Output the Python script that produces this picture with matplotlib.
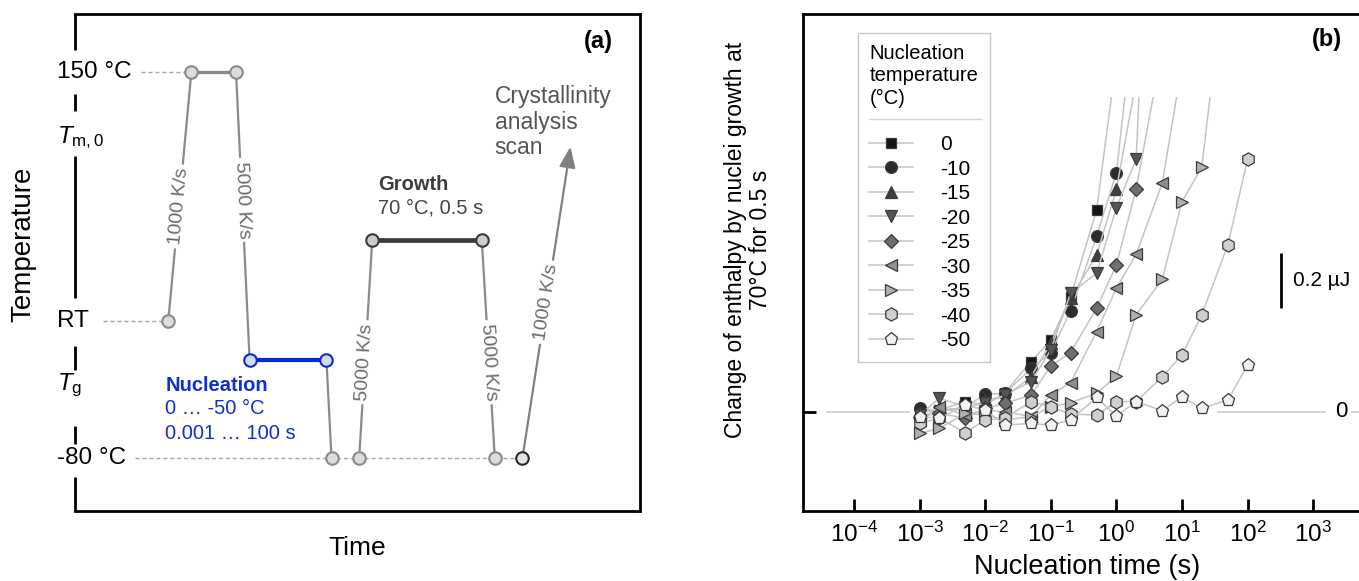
import numpy as np
import matplotlib
matplotlib.use('Agg')
import matplotlib.pyplot as plt
from matplotlib.lines import Line2D
from matplotlib.patches import Rectangle

plt.rcParams['font.family'] = ['Liberation Sans', 'DejaVu Sans']
plt.rcParams['mathtext.fontset'] = 'custom'
plt.rcParams['mathtext.rm'] = 'Liberation Sans'
plt.rcParams['mathtext.it'] = 'Liberation Sans:italic'
plt.rcParams['mathtext.bf'] = 'Liberation Sans:bold'
plt.rcParams['axes.unicode_minus'] = False

# ---------------- Panel (a): schematic temperature program (arbitrary units) ----------------
level_labels = ['150 °C', r'$T_{\mathrm{m,0}}$', 'RT', r'$T_{\mathrm{g}}$', '-80 °C']
level_values = [88.4, 75.2, 38.1, 25.3, 10.65]
T_150, T_RT, T_NUC, T_M80, T_GROW = 88.4, 38.1, 30.4, 10.65, 54.4
prog_time = [16.5, 20.6, 28.5, 30.9, 44.5, 45.4, 50.3, 52.6, 72.0, 74.3, 79.2]
prog_temp = [T_RT, T_150, T_150, T_NUC, T_NUC, T_M80, T_M80, T_GROW, T_GROW, T_M80, T_M80]
scan_end = (87.7, 73.3)
rate_labels = ['1000 K/s', '5000 K/s', '5000 K/s', '5000 K/s', '1000 K/s']

# ---------------- Panel (b): data ----------------
nuc_time = [0.001, 0.002, 0.005, 0.01, 0.02, 0.05, 0.1, 0.2, 0.5, 1, 2, 5, 10, 20, 50, 100]
temps = ['0', '-10', '-15', '-20', '-25', '-30', '-35', '-40', '-50']
dH_0 = [0.004, 0.006, 0.037, 0.024, 0.070, 0.183, 0.262, 0.418, 0.738, 1.29]
dH_m10 = [0.012, 0.000, 0.018, 0.063, 0.067, 0.158, 0.216, 0.369, 0.642, 0.874, 1.52]
dH_m15 = [-0.006, 0.012, 0.006, 0.043, 0.055, 0.128, 0.250, 0.415, 0.573, 0.813, 1.21]
dH_m20 = [-0.012, 0.049, 0.018, 0.030, 0.061, 0.110, 0.226, 0.433, 0.506, 0.746, 0.924, 3.0]
dH_m25 = [-0.018, -0.006, -0.024, 0.012, 0.030, 0.061, 0.167, 0.216, 0.378, 0.537, 0.814, 1.33]
dH_m30 = [-0.030, 0.018, -0.012, 0.006, 0.000, -0.018, 0.061, 0.106, 0.293, 0.451, 0.576, 0.835, 1.27]
dH_m35 = [-0.079, -0.061, -0.006, -0.012, -0.030, -0.018, 0.018, 0.033, 0.067, 0.130, 0.354, 0.484,
          0.768, 0.894, 1.70]
dH_m40 = [-0.043, -0.024, -0.077, -0.030, -0.024, 0.037, 0.018, -0.009, -0.012, 0.037, 0.037, 0.128,
          0.207, 0.354, 0.610, 0.923]
dH_m50 = [-0.018, -0.024, 0.024, 0.006, -0.049, -0.043, -0.049, -0.030, 0.052, -0.016, 0.037, 0.004,
          0.055, 0.012, 0.043, 0.171]
series = [dH_0, dH_m10, dH_m15, dH_m20, dH_m25, dH_m30, dH_m35, dH_m40, dH_m50]

markers = ['s', 'o', '^', 'v', 'D', '<', '>', 'h', 'p']
msizes = [7.5, 8.5, 9, 9, 7.5, 9, 9, 9.5, 9.5]
fills = ['#151515', '#2b2b2b', '#3f3f3f', '#555555', '#6e6e6e', '#909090', '#b0b0b0', '#cfcfcf', '#f2f2f2']

W, H = 1359, 581
fig = plt.figure(figsize=(W / 100, H / 100), dpi=100)

# =============== Panel (a) ===============
axa = fig.add_axes([75 / W, (H - 510.7) / H, 565 / W, 496.7 / H])
axa.set_xlim(0, 100)
axa.set_ylim(0, 100)
axa.set_xticks([])
axa.set_yticks([])
for s in ['top', 'right', 'bottom']:
    axa.spines[s].set_linewidth(2)
axa.spines['left'].set_visible(False)
spine_segments = [(92.75, 100), (80.5, 83.9), (42.8, 71.4), (28.3, 33.2), (13.4, 17.1), (0, 6.8)]
for y0, y1 in spine_segments:
    axa.plot([0, 0], [y0, y1], color='black', lw=2, clip_on=False, solid_capstyle='butt')

for lab, val in zip(level_labels, level_values):
    axa.text(-3.2, val, lab, ha='left', va='center', fontsize=17.5, clip_on=False)

dash = (0, (3, 2))
axa.plot([11.7, prog_time[1]], [T_150, T_150], ls=dash, color='#a8a8a8', lw=1)
axa.plot([4.96, prog_time[0]], [T_RT, T_RT], ls=dash, color='#a8a8a8', lw=1)
axa.plot([10.7, prog_time[-1]], [T_M80, T_M80], ls=dash, color='#a8a8a8', lw=1)

ramp_c = '#8a8a8a'
ramps = [(0, 1), (2, 3), (4, 5), (6, 7), (8, 9)]
for i, j in ramps:
    axa.plot([prog_time[i], prog_time[j]], [prog_temp[i], prog_temp[j]], color=ramp_c, lw=1.6, zorder=2)
axa.plot(prog_time[1:3], prog_temp[1:3], color='#8a8a8a', lw=2.4, zorder=2)
axa.plot(prog_time[3:5], prog_temp[3:5], color='#0a2ad0', lw=3.0, zorder=2)
axa.plot(prog_time[7:9], prog_temp[7:9], color='#3a3a3a', lw=3.4, zorder=2)

axa.annotate('', xy=scan_end, xytext=(prog_time[-1], prog_temp[-1]),
             arrowprops=dict(arrowstyle='-|>,head_length=0.9,head_width=0.35', color='#808080',
                             lw=1.6, shrinkA=0, shrinkB=0, mutation_scale=14), zorder=2)

circ_style = dict(marker='o', ms=9, mew=1.5, ls='none', zorder=5)
for k in [0, 1, 2, 5, 6, 9]:
    axa.plot(prog_time[k], prog_temp[k], mfc='#dcdcdc', mec='#8a8a8a', **circ_style)
for k in [3, 4]:
    axa.plot(prog_time[k], prog_temp[k], mfc='#cfdcf2', mec='#0a2ad0', **circ_style)
for k in [7, 8]:
    axa.plot(prog_time[k], prog_temp[k], mfc='#cccccc', mec='#3a3a3a', **circ_style)
axa.plot(prog_time[10], prog_temp[10], mfc='#e4e4e4', mec='#2a2a2a', **circ_style)

fig.canvas.draw()
label_segments = [((prog_time[0], prog_temp[0]), (prog_time[1], prog_temp[1]), 0.46),
                  ((prog_time[2], prog_temp[2]), (prog_time[3], prog_temp[3]), 0.445),
                  ((prog_time[6], prog_temp[6]), (prog_time[7], prog_temp[7]), 0.44),
                  ((prog_time[8], prog_temp[8]), (prog_time[9], prog_temp[9]), 0.56),
                  ((prog_time[10], prog_temp[10]), scan_end, 0.50)]
for lab, (p0, p1, f) in zip(rate_labels, label_segments):
    d0 = axa.transData.transform(p0)
    d1 = axa.transData.transform(p1)
    ang = np.degrees(np.arctan2(d1[1] - d0[1], d1[0] - d0[0]))
    if ang < -90:
        ang += 180
    xm = p0[0] + f * (p1[0] - p0[0])
    ym = p0[1] + f * (p1[1] - p0[1])
    axa.text(xm, ym, lab, rotation=ang, rotation_mode='anchor', ha='center', va='center',
             fontsize=14, color='#6a6a6a', zorder=4,
             bbox=dict(facecolor='white', edgecolor='none', pad=2.5))

axa.text(92.6, 94.4, '(a)', fontweight='bold', fontsize=17, ha='center', va='center')
axa.text(74.3, 78.2, 'Crystallinity\nanalysis\nscan', fontsize=16.5, color='#555555',
         ha='left', va='center', linespacing=1.15)
axa.text(53.6, 65.7, 'Growth', fontweight='bold', fontsize=14.5, color='#3c3c3c', ha='left', va='center')
axa.text(53.6, 60.9, '70 °C, 0.5 s', fontsize=14.5, color='#454545', ha='left', va='center')
nuc_c = '#1030d0'
axa.text(16.0, 25.3, 'Nucleation', fontweight='bold', fontsize=14.5, color=nuc_c, ha='left', va='center')
axa.text(16.0, 20.5, '0 … -50 °C', fontsize=14.5, color=nuc_c, ha='left', va='center')
axa.text(16.0, 15.6, '0.001 … 100 s', fontsize=14.5, color=nuc_c, ha='left', va='center')

fig.text(23 / W, 1 - 244 / H, 'Temperature', rotation=90, fontsize=20, ha='center', va='center')
fig.text(357.5 / W, 1 - 547.6 / H, 'Time', fontsize=19, ha='center', va='center')

# =============== Panel (b) ===============
x_left_px, x_right_px = 803, 1372
axb = fig.add_axes([x_left_px / W, (H - 510.7) / H, (x_right_px - x_left_px) / W, 496.7 / H])
axb.set_xscale('log')
axb.set_xlim(10 ** -4.777, 10 ** 3.896)
axb.set_ylim(-0.362, 1.454)
for s in axb.spines.values():
    s.set_linewidth(2)
axb.spines['right'].set_visible(False)

CLIP_TOP = 1.152
clip_rect = Rectangle((1e-6, -1.0), 1e6, CLIP_TOP + 1.0, transform=axb.transData,
                      facecolor='none', edgecolor='none')
axb.add_patch(clip_rect)

zl = dict(color='#c8c8c8', lw=1.1, zorder=1)
axb.plot([10 ** -4.415, 10 ** -3.163], [0, 0], **zl)
axb.plot([10 ** 1.547, 10 ** 3.180], [0, 0], **zl)
axb.plot([10 ** 3.589, 10 ** 3.896], [0, 0], **zl)
axb.text(10 ** 3.424, 0, '0', fontsize=16, ha='center', va='center')

handles = []
for vals, lab, mk, ms, fc in zip(series, temps, markers, msizes, fills):
    t = nuc_time[:len(vals)]
    ln, = axb.plot(t, vals, color='#c4c4c4', lw=1.1, marker=mk, ms=ms, mfc=fc, mec='#3a3a3a',
                   mew=0.9, label=lab, zorder=3)
    ln.set_clip_path(clip_rect)
    handles.append(ln)

axb.plot([10 ** 2.509, 10 ** 2.509], [0.38, 0.58], color='black', lw=2, solid_capstyle='butt')
axb.text(10 ** 2.692, 0.48, '0.2 µJ', fontsize=15, ha='left', va='center')

axb.set_xticks([1e-4, 1e-3, 1e-2, 1e-1, 1e0, 1e1, 1e2, 1e3])
axb.xaxis.set_minor_locator(matplotlib.ticker.NullLocator())
axb.set_yticks([0])
axb.set_yticklabels([])
axb.tick_params(axis='both', direction='in', length=9, width=2, labelsize=17.5, pad=8)
axb.text(0.921, 0.9477, '(b)', transform=axb.transAxes, fontweight='bold', fontsize=17,
         ha='center', va='center')

fig.text(1087 / W, 1 - 567 / H, 'Nucleation time (s)', fontsize=19.5, ha='center', va='center')
fig.text(748 / W, 1 - 240 / H, 'Change of enthalpy by nuclei growth at\n70°C for 0.5 s', rotation=90,
         fontsize=16.5, ha='center', va='center', multialignment='center', linespacing=1.15)

leg = axb.legend(handles=handles, title='Nucleation\ntemperature\n(°C)\n', loc='upper left',
                 bbox_to_anchor=((858 - x_left_px) / (x_right_px - x_left_px), (510.7 - 33) / 496.7),
                 borderaxespad=0, fontsize=15, title_fontsize=14.5, alignment='left',
                 frameon=True, fancybox=False, edgecolor='#c8c8c8', framealpha=1,
                 handlelength=2.1, handletextpad=1.3, labelspacing=0.265, borderpad=0.55)
leg.get_frame().set_linewidth(1)
leg.get_title().set_multialignment('left')

fig.canvas.draw()
tb = leg.get_title().get_window_extent()
lb = leg.get_window_extent()
line_h = tb.height / 4
sep_y = tb.y0 + line_h * 0.5
fig.add_artist(Line2D([(lb.x0 + 11) / W, (lb.x1 - 9) / W], [sep_y / H, sep_y / H],
                      color='#d4d4d4', lw=1))

fig.savefig('out.png', dpi=100)
